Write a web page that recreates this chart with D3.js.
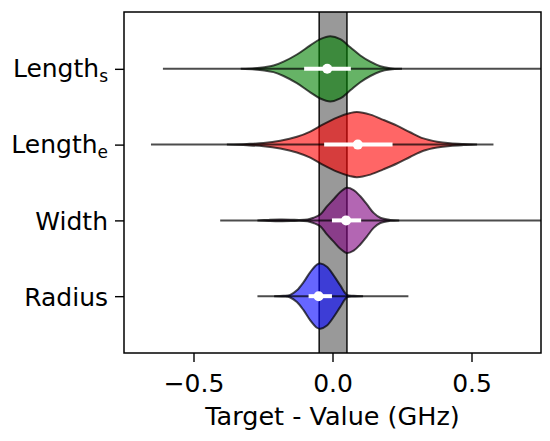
<!DOCTYPE html>
<html>
<head>
<meta charset="utf-8">
<script src="https://cdn.jsdelivr.net/npm/d3@7"></script>
<style>
  body { margin: 0; background: #fff; }
  svg text { font-family: "DejaVu Sans", sans-serif; fill: #000; }
</style>
</head>
<body>
<svg id="chart" width="550" height="441"></svg>
<script>
// categorias (de cima para baixo)
const labelBase = ["Length", "Length", "Width", "Radius"];
const labelSub = ["s", "e", "", ""];

// perfis de densidade (valor, densidade relativa)
const gridLengthS = [-0.33, -0.28, -0.245, -0.212, -0.176, -0.128, -0.08, -0.044, -0.008, 0.028, 0.064, 0.1, 0.136, 0.172, 0.207, 0.25];
const densLengthS = [0.0, 0.02, 0.05, 0.10, 0.22, 0.44, 0.72, 0.91, 1.0, 0.91, 0.66, 0.41, 0.22, 0.08, 0.02, 0.0];

const gridLengthE = [-0.38, -0.308, -0.248, -0.188, -0.128, -0.08, -0.032, 0.016, 0.064, 0.088, 0.136, 0.183, 0.232, 0.279, 0.327, 0.376, 0.423, 0.471, 0.52];
const densLengthE = [0.0, 0.02, 0.05, 0.12, 0.24, 0.40, 0.63, 0.83, 0.97, 1.0, 0.92, 0.76, 0.58, 0.38, 0.19, 0.09, 0.04, 0.015, 0.0];

const gridWidth = [-0.27, -0.23, -0.19, -0.15, -0.12, -0.09, -0.068, -0.044, -0.02, 0.004, 0.028, 0.052, 0.076, 0.1, 0.124, 0.148, 0.172, 0.207, 0.24];
const densWidth = [0.0, 0.015, 0.025, 0.022, 0.012, 0.025, 0.08, 0.18, 0.43, 0.65, 0.87, 1.0, 0.93, 0.74, 0.49, 0.23, 0.08, 0.015, 0.0];

const gridRadius = [-0.21, -0.176, -0.152, -0.128, -0.104, -0.08, -0.056, -0.044, -0.02, 0.004, 0.028, 0.052, 0.076, 0.11];
const densRadius = [0.0, 0.01, 0.04, 0.18, 0.43, 0.74, 0.97, 1.0, 0.9, 0.64, 0.33, 0.04, 0.01, 0.0];

// média e barra branca
const means = [-0.019, 0.091, 0.049, -0.05];
const barLow = [-0.102, -0.030, -0.002, -0.086];
const barHigh = [0.066, 0.216, 0.103, -0.002];

// extremos (linha horizontal)
const minVals = [-0.61, -0.653, -0.404, -0.27];
const maxVals = [0.80, 0.579, 0.80, 0.273];

// faixa cinza
const faixa = [-0.048, 0.052];

const xTicks = [-0.5, 0.0, 0.5];

const grids = [gridLengthS, gridLengthE, gridWidth, gridRadius];
const dens = [densLengthS, densLengthE, densWidth, densRadius];
const cores = ["green", "red", "purple", "blue"];

// area do grafico
const esq = 124, dir = 541, topo = 12, base = 353;
const svg = d3.select("#chart");

const x = d3.scaleLinear().domain([-0.75, 0.75]).range([esq, dir]);
const y = d3.scaleLinear().domain([-0.75, 3.75]).range([topo, base]);
const passo = y(1) - y(0);
const w = d3.scaleLinear().domain([0, 1]).range([0, 0.43 * passo]);

svg.append("clipPath").attr("id", "clip")
    .append("rect").attr("x", esq).attr("y", topo)
    .attr("width", dir - esq).attr("height", base - topo);

const plot = svg.append("g").attr("clip-path", "url(#clip)");

// faixa cinza
plot.append("rect")
    .attr("x", x(faixa[0]))
    .attr("y", topo - 5)
    .attr("width", x(faixa[1]) - x(faixa[0]))
    .attr("height", base - topo + 10)
    .attr("fill", "gray")
    .attr("fill-opacity", 0.8)
    .attr("stroke", "#000")
    .attr("stroke-width", 1.4);

// violinos
for (let i = 0; i < labelBase.length; i++) {
    const pontos = grids[i].map((v, j) => ({ v: v, d: dens[i][j] }));
    const cy = y(i);
    const area = d3.area()
        .x(p => x(p.v))
        .y0(p => cy - w(p.d))
        .y1(p => cy + w(p.d))
        .curve(d3.curveCatmullRom.alpha(0.5));

    plot.append("path")
        .datum(pontos)
        .attr("d", area)
        .attr("fill", cores[i])
        .attr("fill-opacity", 0.6)
        .attr("stroke", "#000")
        .attr("stroke-opacity", 0.7)
        .attr("stroke-width", 2);

    // linha dos extremos
    plot.append("line")
        .attr("x1", x(minVals[i]))
        .attr("x2", x(maxVals[i]))
        .attr("y1", cy).attr("y2", cy)
        .attr("stroke", "#000")
        .attr("stroke-opacity", 0.7)
        .attr("stroke-width", 2);

    // barra branca
    plot.append("line")
        .attr("x1", x(barLow[i]))
        .attr("x2", x(barHigh[i]))
        .attr("y1", cy).attr("y2", cy)
        .attr("stroke", "#fff")
        .attr("stroke-width", 4);

    plot.append("circle")
        .attr("cx", x(means[i]))
        .attr("cy", cy)
        .attr("r", 5)
        .attr("fill", "#fff");
}

// moldura
svg.append("rect")
    .attr("x", esq).attr("y", topo)
    .attr("width", dir - esq).attr("height", base - topo)
    .attr("fill", "none")
    .attr("stroke", "#000")
    .attr("stroke-width", 1.5);

// eixo x
const eixoX = svg.append("g")
    .attr("transform", "translate(0," + base + ")")
    .call(d3.axisBottom(x).tickValues(xTicks).tickFormat(d3.format(".1f")).tickSize(9).tickSizeOuter(0));
eixoX.select(".domain").remove();
eixoX.selectAll(".tick line").attr("stroke", "#000").attr("stroke-width", 1.4);
eixoX.selectAll(".tick text")
    .attr("dy", null)
    .attr("y", 39)
    .style("font-size", "25px")
    .style("font-family", "DejaVu Sans");

svg.append("text")
    .attr("x", (esq + dir) / 2)
    .attr("y", 425)
    .attr("text-anchor", "middle")
    .style("font-size", "25.5px")
    .text("Target - Value (GHz)");

// eixo y
const eixoY = svg.append("g")
    .attr("transform", "translate(" + esq + ",0)")
    .call(d3.axisLeft(y).tickValues(d3.range(labelBase.length)).tickFormat("").tickSize(9).tickSizeOuter(0));
eixoY.select(".domain").remove();
eixoY.selectAll(".tick line").attr("stroke", "#000").attr("stroke-width", 1.4);

eixoY.selectAll(".tick").each(function (d) {
    const t = d3.select(this).append("text")
        .attr("x", -16)
        .attr("y", labelSub[d] ? 8 : 9)
        .attr("text-anchor", "end")
        .style("font-size", "25px");
    t.append("tspan").text(labelBase[d]);
    if (labelSub[d]) {
        t.append("tspan")
            .attr("dy", 5)
            .style("font-size", "17px")
            .text(labelSub[d]);
    }
});
</script>
</body>
</html>
